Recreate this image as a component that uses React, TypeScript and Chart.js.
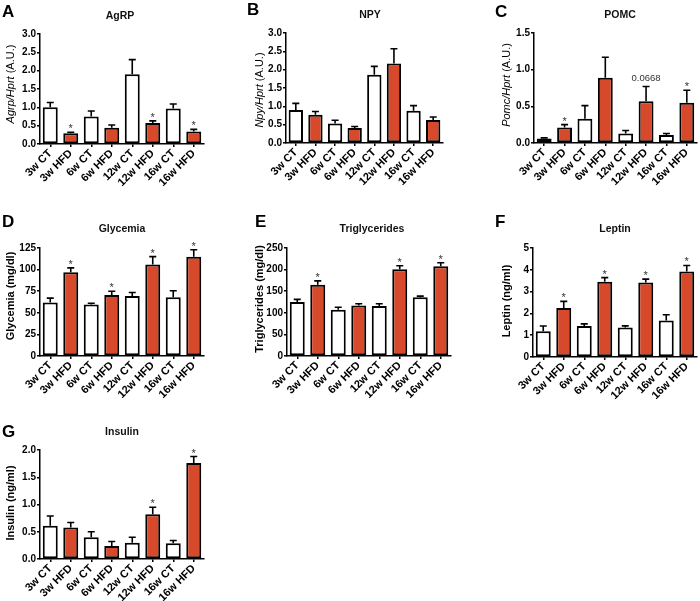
import React, { useEffect, useRef } from 'react';
import { Chart, registerables } from 'chart.js';

Chart.register(...registerables);

const FONT = "'Liberation Sans', Arial, Helvetica, sans-serif";
const ORANGE = '#d64a2b';

const categories = ['3w CT', '3w HFD', '6w CT', '6w HFD', '12w CT', '12w HFD', '16w CT', '16w HFD'];

const agrpMean = [1.0, 0.29, 0.75, 0.44, 1.9, 0.57, 0.97, 0.34];
const agrpErr = [0.13, 0.03, 0.15, 0.08, 0.4, 0.06, 0.12, 0.06];
const agrpMarks = ['', '*', '', '', '', '*', '', '*'];

const npyMean = [0.9, 0.77, 0.53, 0.41, 1.86, 2.17, 0.88, 0.63];
const npyErr = [0.18, 0.09, 0.09, 0.04, 0.23, 0.4, 0.14, 0.08];
const npyMarks = ['', '', '', '', '', '', '', ''];

const pomcMean = [0.06, 0.21, 0.33, 0.89, 0.13, 0.57, 0.11, 0.55];
const pomcErr = [0.01, 0.04, 0.18, 0.28, 0.04, 0.2, 0.02, 0.17];
const pomcMarks = ['', '*', '', '', '', '0.0668', '', '*'];

const glyMean = [62, 97, 59.6, 70.5, 69.5, 106, 68, 115];
const glyErr = [5, 5, 1.5, 4.5, 4, 9, 7.5, 8];
const glyMarks = ['', '*', '', '*', '', '*', '', '*'];

const trigMean = [125, 165, 107, 117, 116, 201, 136, 208];
const trigErr = [6, 9, 6, 4, 5, 8, 2.5, 8];
const trigMarks = ['', '*', '', '', '', '*', '', '*'];

const leptinMean = [1.18, 2.25, 1.42, 3.45, 1.35, 3.42, 1.68, 3.92];
const leptinErr = [0.24, 0.3, 0.1, 0.19, 0.08, 0.15, 0.26, 0.28];
const leptinMarks = ['', '*', '', '*', '', '*', '', '*'];

const insulinMean = [0.61, 0.58, 0.4, 0.24, 0.3, 0.82, 0.29, 1.76];
const insulinErr = [0.18, 0.09, 0.1, 0.08, 0.1, 0.13, 0.05, 0.12];
const insulinMarks = ['', '', '', '', '', '*', '', '*'];

type Seg = { text: string; italic?: boolean };

type Panel = {
  letter: string;
  title: string;
  ylabel: Seg[];
  ylabelBold: boolean;
  mean: number[];
  err: number[];
  marks: string[];
  max: number;
  step: number;
  decimals: number;
  left: number;
  top: number;
  width: number;
  height: number;
  wy: number;
  hx: number;
  padTop: number;
  padRight: number;
  titlePos: [number, number];
  letterPos: [number, number];
  ylabelPos: [number, number];
};

const panels: Panel[] = [
  {
    letter: 'A', title: 'AgRP', ylabel: [{ text: 'Agrp/Hprt', italic: true }, { text: ' (A.U.)' }], ylabelBold: false,
    mean: agrpMean, err: agrpErr, marks: agrpMarks, max: 3, step: 0.5, decimals: 1,
    left: 0, top: 0, width: 230, height: 200, wy: 40, hx: 56, padTop: 34, padRight: 26,
    titlePos: [120, 16], letterPos: [2, 12], ylabelPos: [11, 84],
  },
  {
    letter: 'B', title: 'NPY', ylabel: [{ text: 'Npy/Hprt', italic: true }, { text: ' (A.U.)' }], ylabelBold: false,
    mean: npyMean, err: npyErr, marks: npyMarks, max: 3, step: 0.5, decimals: 1,
    left: 230, top: 0, width: 230, height: 200, wy: 56, hx: 57, padTop: 33, padRight: 17,
    titlePos: [140, 15], letterPos: [17, 10], ylabelPos: [30, 90],
  },
  {
    letter: 'C', title: 'POMC', ylabel: [{ text: 'Pomc/Hprt', italic: true }, { text: ' (A.U.)' }], ylabelBold: false,
    mean: pomcMean, err: pomcErr, marks: pomcMarks, max: 1.5, step: 0.5, decimals: 1,
    left: 460, top: 0, width: 240, height: 200, wy: 74, hx: 57, padTop: 33, padRight: 3,
    titlePos: [160, 15], letterPos: [35, 12], ylabelPos: [47, 85],
  },
  {
    letter: 'D', title: 'Glycemia', ylabel: [{ text: 'Glycemia (mg/dl)' }], ylabelBold: true,
    mean: glyMean, err: glyErr, marks: glyMarks, max: 125, step: 25, decimals: 0,
    left: 0, top: 200, width: 230, height: 200, wy: 40, hx: 44, padTop: 48, padRight: 26,
    titlePos: [122, 29], letterPos: [2, 22], ylabelPos: [11, 96],
  },
  {
    letter: 'E', title: 'Triglycerides', ylabel: [{ text: 'Triglycerides (mg/dl)' }], ylabelBold: true,
    mean: trigMean, err: trigErr, marks: trigMarks, max: 250, step: 50, decimals: 0,
    left: 230, top: 200, width: 230, height: 200, wy: 57, hx: 44, padTop: 48, padRight: 9,
    titlePos: [142, 29], letterPos: [25, 22], ylabelPos: [30, 99],
  },
  {
    letter: 'F', title: 'Leptin', ylabel: [{ text: 'Leptin (ng/ml)' }], ylabelBold: true,
    mean: leptinMean, err: leptinErr, marks: leptinMarks, max: 5, step: 1, decimals: 0,
    left: 460, top: 200, width: 240, height: 200, wy: 73, hx: 43, padTop: 48, padRight: 3,
    titlePos: [155, 29], letterPos: [35, 22], ylabelPos: [47, 101],
  },
  {
    letter: 'G', title: 'Insulin', ylabel: [{ text: 'Insulin (ng/ml)' }], ylabelBold: true,
    mean: insulinMean, err: insulinErr, marks: insulinMarks, max: 2, step: 0.5, decimals: 1,
    left: 0, top: 400, width: 230, height: 201, wy: 40, hx: 42, padTop: 50, padRight: 26,
    titlePos: [122, 32], letterPos: [2, 32], ylabelPos: [11, 103],
  },
];

function makePlugin(p: Panel) {
  return {
    id: 'panelDecor' + p.letter,
    afterDatasetsDraw(chart: any) {
      const ctx = chart.ctx as CanvasRenderingContext2D;
      const meta = chart.getDatasetMeta(0);
      const y = chart.scales.y;
      ctx.save();
      meta.data.forEach((bar: any, i: number) => {
        const x = bar.x;
        const yTop = y.getPixelForValue(p.mean[i]);
        const yErr = y.getPixelForValue(p.mean[i] + p.err[i]);
        ctx.strokeStyle = '#000';
        ctx.lineWidth = 1.6;
        ctx.beginPath();
        ctx.moveTo(x, yTop);
        ctx.lineTo(x, yErr);
        ctx.moveTo(x - 3.5, yErr);
        ctx.lineTo(x + 3.5, yErr);
        ctx.stroke();
        const m = p.marks[i];
        if (m) {
          ctx.fillStyle = '#333';
          ctx.textAlign = 'center';
          ctx.textBaseline = 'alphabetic';
          if (m === '*') {
            ctx.font = `11px ${FONT}`;
            ctx.fillText(m, x, yErr);
          } else {
            ctx.font = `9.5px ${FONT}`;
            ctx.fillText(m, x, yErr - 5.5);
          }
        }
      });
      ctx.restore();
    },
    afterDraw(chart: any) {
      const ctx = chart.ctx as CanvasRenderingContext2D;
      ctx.save();
      ctx.fillStyle = '#000';
      ctx.font = `bold 17px ${FONT}`;
      ctx.textAlign = 'left';
      ctx.textBaseline = 'middle';
      ctx.fillText(p.letter, p.letterPos[0], p.letterPos[1]);
      ctx.font = `bold 10.5px ${FONT}`;
      ctx.textAlign = 'center';
      ctx.fillStyle = '#111';
      ctx.fillText(p.title, p.titlePos[0], p.titlePos[1]);
      const weight = p.ylabelBold ? 'bold ' : '';
      const fontFor = (s: Seg) => `${s.italic ? 'italic ' : ''}${weight}11px ${FONT}`;
      let total = 0;
      const widths = p.ylabel.map((s) => {
        ctx.font = fontFor(s);
        const w = ctx.measureText(s.text).width;
        total += w;
        return w;
      });
      ctx.translate(p.ylabelPos[0], p.ylabelPos[1]);
      ctx.rotate(-Math.PI / 2);
      ctx.textAlign = 'left';
      ctx.textBaseline = 'middle';
      ctx.fillStyle = '#000';
      let cx = -total / 2;
      p.ylabel.forEach((s, i) => {
        ctx.font = fontFor(s);
        ctx.fillText(s.text, cx, 0);
        cx += widths[i];
      });
      ctx.restore();
    },
  };
}

function PanelChart({ p }: { p: Panel }) {
  const ref = useRef<HTMLCanvasElement | null>(null);
  useEffect(() => {
    if (!ref.current) return;
    const chart = new Chart(ref.current, {
      type: 'bar',
      data: {
        labels: categories,
        datasets: [
          {
            data: p.mean,
            backgroundColor: categories.map((_, i) => (i % 2 === 0 ? '#ffffff' : ORANGE)),
            borderColor: '#000',
            borderWidth: 2,
            borderSkipped: false,
            barPercentage: 0.73,
            categoryPercentage: 1,
          },
        ],
      },
      options: {
        animation: false,
        responsive: false,
        maintainAspectRatio: false,
        devicePixelRatio: 1,
        layout: { padding: { top: p.padTop, right: p.padRight, left: 0, bottom: 0 } },
        plugins: {
          legend: { display: false },
          tooltip: { enabled: false },
          title: { display: false },
        },
        scales: {
          x: {
            offset: true,
            grid: {
              display: true,
              drawOnChartArea: false,
              drawTicks: true,
              tickLength: 3,
              color: '#000',
              lineWidth: 1.5,
              offset: false,
            },
            border: { display: true, color: '#000', width: 1.5 },
            ticks: {
              color: '#000',
              font: { family: FONT, size: 11, weight: 'bold' },
              maxRotation: 45,
              minRotation: 45,
              padding: 0,
              autoSkip: false,
            },
            afterFit: (s: any) => {
              s.height = p.hx;
            },
          },
          y: {
            min: 0,
            max: p.max,
            grid: {
              display: true,
              drawOnChartArea: false,
              drawTicks: true,
              tickLength: 3,
              color: '#000',
              lineWidth: 1.5,
            },
            border: { display: true, color: '#000', width: 1.5 },
            ticks: {
              stepSize: p.step,
              color: '#000',
              font: { family: FONT, size: 10, weight: 'bold' },
              padding: 1,
              callback: (v: any) => Number(v).toFixed(p.decimals),
            },
            afterFit: (s: any) => {
              s.width = p.wy;
            },
          },
        },
      },
      plugins: [makePlugin(p)],
    } as any);
    return () => chart.destroy();
  }, [p]);
  return (
    <canvas
      ref={ref}
      width={p.width}
      height={p.height}
      style={{ position: 'absolute', left: p.left, top: p.top, width: p.width, height: p.height }}
    />
  );
}

export default function App() {
  return (
    <div style={{ position: 'absolute', left: 0, top: 0, width: 700, height: 601, background: '#fff', overflow: 'hidden' }}>
      {panels.map((p) => (
        <PanelChart key={p.letter} p={p} />
      ))}
    </div>
  );
}
